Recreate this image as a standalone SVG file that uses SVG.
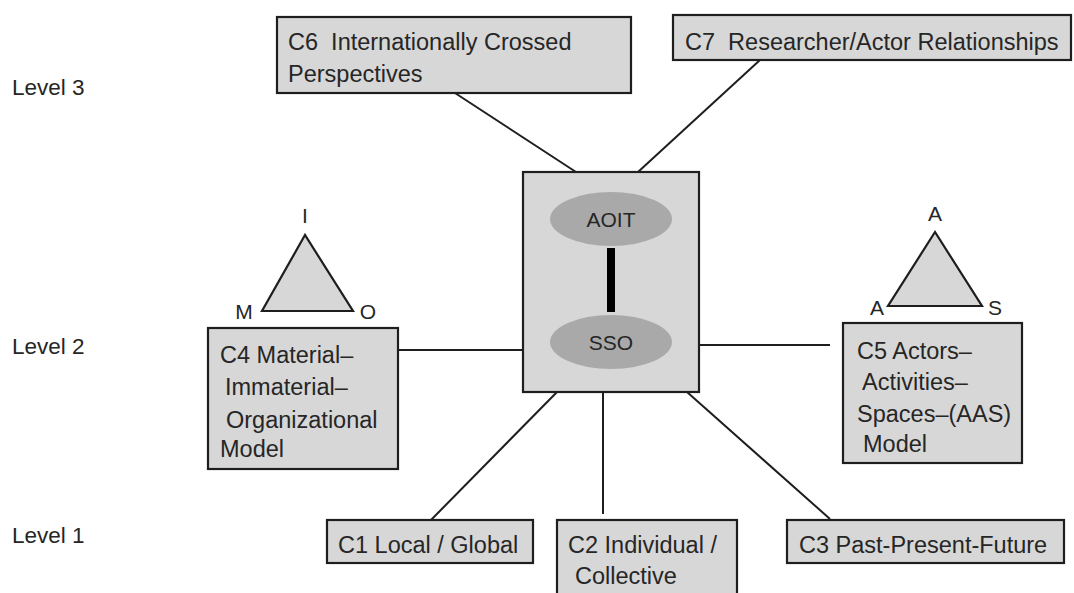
<svg xmlns="http://www.w3.org/2000/svg" width="1074" height="593" viewBox="0 0 1074 593">
<style>
.box{fill:#d7d7d7;stroke:#1e1e1e;stroke-width:2.2}
.ell{fill:#a9a9a9;stroke:none}
.t{font-family:"Liberation Sans",Arial,sans-serif;font-size:23.5px;fill:#262626;white-space:pre}
.lv{font-family:"Liberation Sans",Arial,sans-serif;font-size:22.5px;fill:#262626}
.c{font-family:"Liberation Sans",Arial,sans-serif;font-size:21px;fill:#262626;text-anchor:middle}
.ln{stroke:#1e1e1e;stroke-width:2;fill:none}
</style>
<rect width="1074" height="593" fill="#ffffff"/>
<g id="levels">
<text class="lv" x="12" y="95">Level 3</text>
<text class="lv" x="12" y="354">Level 2</text>
<text class="lv" x="12" y="543">Level 1</text>
</g>
<g id="connectors">
<line class="ln" x1="455" y1="93" x2="576" y2="172"/>
<line class="ln" x1="760" y1="60" x2="638" y2="172"/>
<line class="ln" x1="398" y1="350" x2="523" y2="350"/>
<line class="ln" x1="699" y1="345" x2="830" y2="345"/>
<line class="ln" x1="431" y1="520" x2="557" y2="392"/>
<line class="ln" x1="603" y1="392" x2="603" y2="514"/>
<line class="ln" x1="687" y1="392" x2="830" y2="519"/>
</g>
<g id="center">
<rect class="box" x="523" y="172" width="176" height="220"/>
<ellipse class="ell" cx="611" cy="219" rx="61" ry="27"/>
<ellipse class="ell" cx="611" cy="342" rx="61" ry="27"/>
<line x1="611" y1="248" x2="611" y2="312" stroke="#000" stroke-width="8"/>
<text class="c" x="611" y="227">AOIT</text>
<text class="c" x="611" y="350">SSO</text>
</g>
<g id="c6">
<rect class="box" x="277" y="17" width="354" height="76"/>
<text class="t" x="288" y="50" xml:space="preserve">C6  Internationally Crossed</text>
<text class="t" x="288" y="82">Perspectives</text>
</g>
<g id="c7">
<rect class="box" x="673" y="15" width="398" height="45"/>
<text class="t" x="685" y="50" xml:space="preserve">C7  Researcher/Actor Relationships</text>
</g>
<g id="c4">
<polygon class="box" points="305,235 262,311 353,311"/>
<text class="c" x="305" y="223">I</text>
<text class="c" x="244" y="319">M</text>
<text class="c" x="368" y="319">O</text>
<rect class="box" x="208" y="328" width="190" height="141"/>
<text class="t" x="220" y="363">C4 Material–</text>
<text class="t" x="225" y="395">Immaterial–</text>
<text class="t" x="226" y="428">Organizational</text>
<text class="t" x="220" y="457">Model</text>
</g>
<g id="c5">
<polygon class="box" points="935,232 888,306 982,306"/>
<text class="c" x="935" y="221">A</text>
<text class="c" x="877" y="315">A</text>
<text class="c" x="995" y="315">S</text>
<rect class="box" x="843" y="323" width="179" height="140"/>
<text class="t" x="857" y="359">C5 Actors–</text>
<text class="t" x="862" y="390">Activities–</text>
<text class="t" x="857" y="422">Spaces–(AAS)</text>
<text class="t" x="863" y="452">Model</text>
</g>
<g id="c1">
<rect class="box" x="327" y="520" width="206" height="43"/>
<text class="t" x="338" y="553">C1 Local / Global</text>
</g>
<g id="c2">
<rect class="box" x="557" y="520" width="180" height="80"/>
<text class="t" x="568" y="553">C2 Individual /</text>
<text class="t" x="575" y="584">Collective</text>
</g>
<g id="c3">
<rect class="box" x="787" y="520" width="277" height="43"/>
<text class="t" x="799" y="553">C3 Past-Present-Future</text>
</g>
</svg>
